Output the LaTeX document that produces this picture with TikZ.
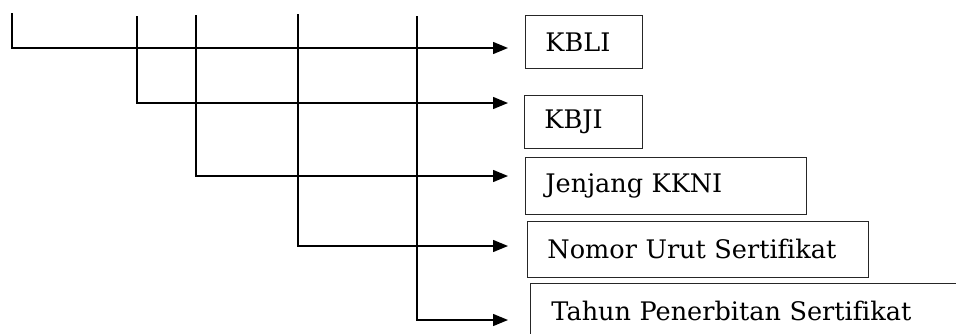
\documentclass[tikz,border=0pt]{standalone}
\usepackage{fontspec}
\setmainfont[Ligatures=NoCommon]{DejaVu Serif}
\usetikzlibrary{arrows.meta}

\begin{document}
\begin{tikzpicture}[x=0.03cm,y=-0.03cm,
	kotak/.style={draw=black!85, line width=0.8pt, anchor=north west, inner xsep=0.6cm, align=left, font=\fontsize{21.8}{26}\selectfont},
	garis/.style={line width=1.2pt, -{Triangle[length=0.45cm,width=0.36cm]}}]
	
	\useasboundingbox (0,0) rectangle (956,333);
	\clip (0,0) rectangle (956,333);
	
	% kotak kode
	\node[kotak, minimum width=3.51cm, minimum height=1.59cm, text width=2.31cm] (kbli) at (525,15) {KBLI};
	\node[kotak, minimum width=3.54cm, minimum height=1.59cm, text width=2.34cm] (kbji) at (524,95) {KBJI};
	\node[kotak, minimum width=8.43cm, minimum height=1.71cm, text width=7.23cm] (kkni) at (525,157) {Jenjang KKNI};
	\node[kotak, minimum width=10.23cm, minimum height=1.68cm, text width=9.03cm] (nomor) at (527,221) {Nomor Urut Sertifikat};
	\node[kotak, minimum width=13.2cm, minimum height=1.68cm, text width=11.94cm, inner xsep=0.63cm] (tahun) at (530,283) {Tahun Penerbitan Sertifikat};
	
	% ujung atas garis
	\coordinate (t1) at (12,13);
	\coordinate (t2) at (137,16);
	\coordinate (t3) at (196,15);
	\coordinate (t4) at (298,14);
	\coordinate (t5) at (417,16);
	
	% ujung panah
	\coordinate (e1) at (508,48);
	\coordinate (e2) at (508,103);
	\coordinate (e3) at (508,176);
	\coordinate (e4) at (508,246);
	\coordinate (e5) at (508,320);
	
	\draw[garis] (t1) |- (e1);
	\draw[garis] (t2) |- (e2);
	\draw[garis] (t3) |- (e3);
	\draw[garis] (t4) |- (e4);
	\draw[garis] (t5) |- (e5);
	
\end{tikzpicture}
\end{document}
